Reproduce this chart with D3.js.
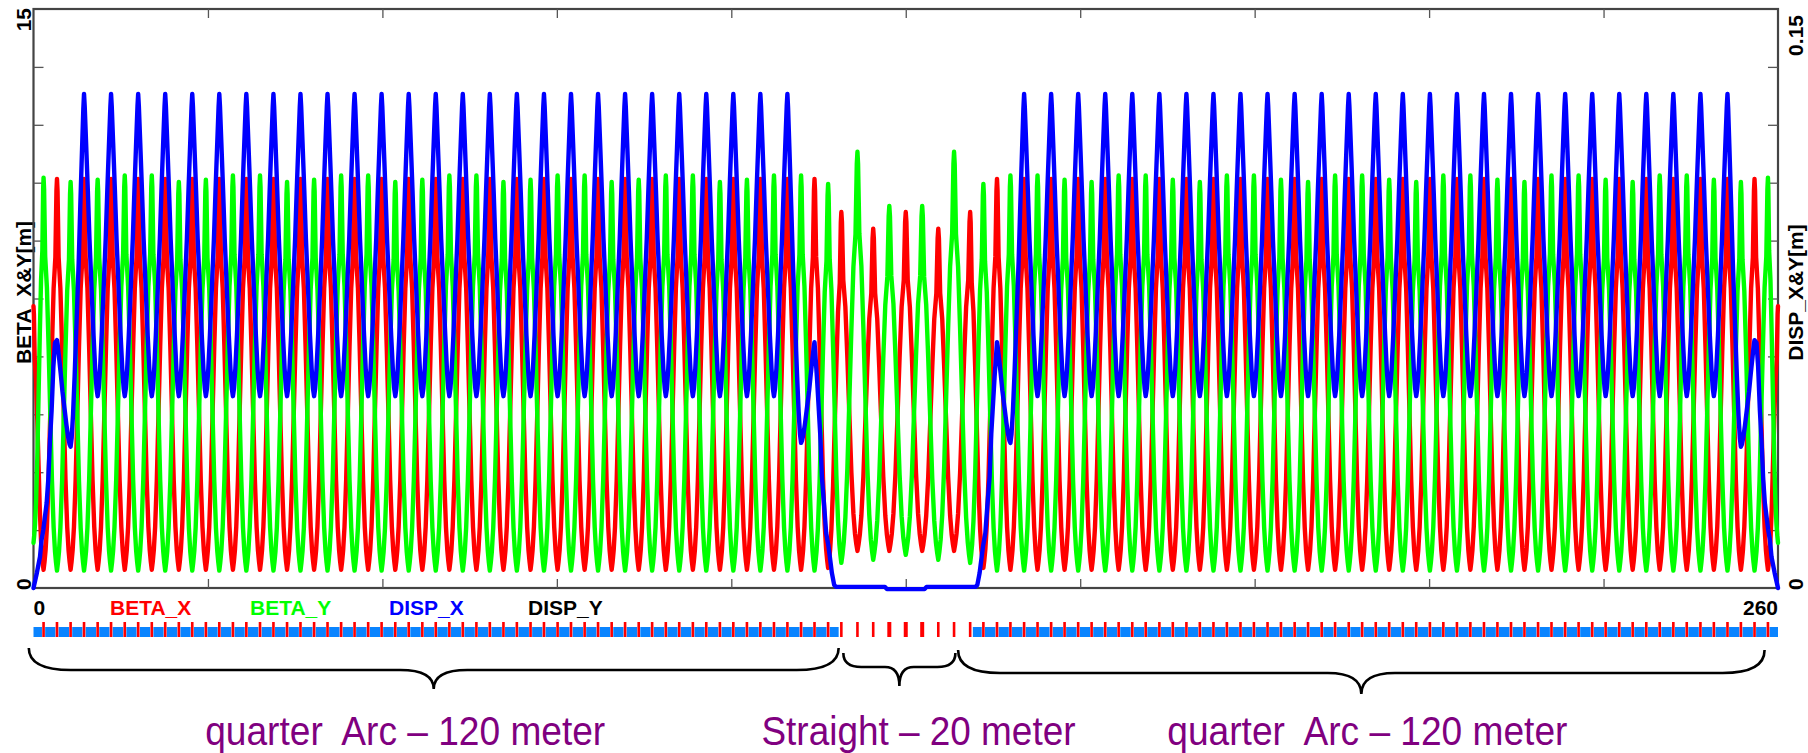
<!DOCTYPE html>
<html><head><meta charset="utf-8">
<script src="https://cdn.jsdelivr.net/npm/d3@7"></script>
<style>html,body{margin:0;padding:0;background:#fff;} svg{display:block;}</style>
</head><body>
<script>
// ================= DATA =================
// Positions (m) of the lattice turning points = quadrupole centres, plus both ends.
const turnS = [0,
  1.50, 3.50, 5.53, 7.53, 9.56, 11.56, 13.60, 15.60, 17.63, 19.63,
  21.66, 23.66, 25.69, 27.69, 29.72, 31.72, 33.76, 35.76, 37.79, 39.79,
  41.82, 43.82, 45.85, 47.85, 49.88, 51.88, 53.92, 55.92, 57.95, 59.95,
  61.98, 63.98, 66.01, 68.01, 70.04, 72.04, 74.08, 76.08, 78.11, 80.11,
  82.14, 84.14, 86.17, 88.17, 90.20, 92.20, 94.24, 96.24, 98.27, 100.27,
  102.30, 104.30, 106.33, 108.33, 110.36, 112.36, 114.40, 116.40, 118.43,
  120.40, 122.80, 125.15, 127.55, 130.00, 132.45, 134.85, 137.20, 139.60,
  141.57, 143.60, 145.60, 147.64, 149.64, 151.67, 153.67, 155.70, 157.70, 159.73,
  161.73, 163.76, 165.76, 167.80, 169.80, 171.83, 173.83, 175.86, 177.86, 179.89,
  181.89, 183.92, 185.92, 187.96, 189.96, 191.99, 193.99, 196.02, 198.02, 200.05,
  202.05, 204.08, 206.08, 208.12, 210.12, 212.15, 214.15, 216.18, 218.18, 220.21,
  222.21, 224.24, 226.24, 228.28, 230.28, 232.31, 234.31, 236.34, 238.34, 240.37,
  242.37, 244.40, 246.40, 248.44, 250.44, 252.47, 254.47, 256.50, 258.50,
  260];

// BETA_X (m) at each turning point
const betaX = [7.3,
  0.47,10.6,0.47,10.6,0.47,10.6,0.47,10.6,0.47,10.6,
  0.47,10.6,0.47,10.6,0.47,10.6,0.47,10.6,0.47,10.6,
  0.47,10.6,0.47,10.6,0.47,10.6,0.47,10.6,0.47,10.6,
  0.47,10.6,0.47,10.6,0.47,10.6,0.47,10.6,0.47,10.6,
  0.47,10.6,0.47,10.6,0.47,10.6,0.47,10.6,0.47,10.6,
  0.47,10.6,0.47,10.6,0.47,10.6,0.47,10.6,0.52,
  9.74,0.96,9.31,0.96,9.74,0.96,9.31,0.96,9.74,
  0.52,10.6,0.47,10.6,0.47,10.6,0.47,10.6,0.47,10.6,
  0.47,10.6,0.47,10.6,0.47,10.6,0.47,10.6,0.47,10.6,
  0.47,10.6,0.47,10.6,0.47,10.6,0.47,10.6,0.47,10.6,
  0.47,10.6,0.47,10.6,0.47,10.6,0.47,10.6,0.47,10.6,
  0.47,10.6,0.47,10.6,0.47,10.6,0.47,10.6,0.47,10.6,
  0.47,10.6,0.47,10.6,0.47,10.6,0.47,10.6,0.47,
  7.3];

// BETA_Y (m) at each turning point
const betaY = [1.17,
  10.63,0.45,10.52,0.45,10.58,0.45,10.69,0.45,10.69,0.45,
  10.52,0.45,10.58,0.45,10.69,0.45,10.69,0.45,10.52,0.45,
  10.58,0.45,10.69,0.45,10.69,0.45,10.52,0.45,10.58,0.45,
  10.69,0.45,10.69,0.45,10.52,0.45,10.58,0.45,10.69,0.45,
  10.69,0.45,10.52,0.45,10.58,0.45,10.69,0.45,10.69,0.45,
  10.52,0.45,10.58,0.45,10.69,0.45,10.69,0.45,10.47,
  0.65,11.3,0.73,9.9,0.86,9.9,0.73,11.3,0.65,
  10.47,0.45,10.69,0.45,10.69,0.45,10.58,0.45,10.52,0.45,
  10.69,0.45,10.69,0.45,10.58,0.45,10.52,0.45,10.69,0.45,
  10.69,0.45,10.58,0.45,10.52,0.45,10.69,0.45,10.69,0.45,
  10.58,0.45,10.52,0.45,10.69,0.45,10.69,0.45,10.58,0.45,
  10.52,0.45,10.69,0.45,10.69,0.45,10.58,0.45,10.52,0.45,
  10.69,0.45,10.69,0.45,10.58,0.45,10.52,0.45,10.63,
  1.17];

// DISP_X (m) at each turning point of the arcs (null = not a turning point)
const dispX = [null,
  null,0.0642,0.0366,0.128,0.0497,0.128,0.0497,0.128,0.0497,0.128,
  0.0497,0.128,0.0497,0.128,0.0497,0.128,0.0497,0.128,0.0497,0.128,
  0.0497,0.128,0.0497,0.128,0.0497,0.128,0.0497,0.128,0.0497,0.128,
  0.0497,0.128,0.0497,0.128,0.0497,0.128,0.0497,0.128,0.0497,0.128,
  0.0497,0.128,0.0497,0.128,0.0497,0.128,0.0497,0.128,0.0497,0.128,
  0.0497,0.128,0.0497,0.128,0.0497,0.128,0.0376,0.0637,null,
  null,null,null,null,null,null,null,null,null,
  null,0.0637,0.0376,0.128,0.0497,0.128,0.0497,0.128,0.0497,0.128,
  0.0497,0.128,0.0497,0.128,0.0497,0.128,0.0497,0.128,0.0497,0.128,
  0.0497,0.128,0.0497,0.128,0.0497,0.128,0.0497,0.128,0.0497,0.128,
  0.0497,0.128,0.0497,0.128,0.0497,0.128,0.0497,0.128,0.0497,0.128,
  0.0497,0.128,0.0497,0.128,0.0497,0.128,0.0497,0.128,0.0497,0.128,
  0.0497,0.128,0.0497,0.128,0.0497,0.128,0.0366,0.0642,null,
  null];

// DISP_X samples where it is not periodic: start, straight section, end
const dispStartS = [0, 0.5, 0.97, 1.2, 1.46, 1.96, 2.2, 2.46, 2.7, 2.96, 3.2];
const dispStartV = [0, 0.0039, 0.0081, 0.0124, 0.015, 0.022, 0.028, 0.0383, 0.046, 0.0573, 0.0635];
const dispMidS = [116.76, 117.25, 117.5, 117.85, 118.14, 118.49, 118.74, 118.99, 119.33, 119.6,
                  126.9, 127.2, 132.8, 133.1,
                  140.4, 140.67, 141.01, 141.26, 141.51, 141.86, 142.15, 142.5, 142.75, 143.24];
const dispMidV = [0.0547, 0.040, 0.0288, 0.021, 0.0142, 0.0107, 0.0073, 0.0039, 0.0008, 0.0003,
                  0.0003, -0.0003, -0.0003, 0.0003,
                  0.0003, 0.0008, 0.0039, 0.0073, 0.0107, 0.0142, 0.021, 0.0288, 0.040, 0.0547];
const dispEndS = [256.8, 257.04, 257.3, 257.54, 257.8, 258.04, 258.54, 258.8, 259.03, 259.5, 260];
const dispEndV = [0.0635, 0.0573, 0.046, 0.0383, 0.028, 0.022, 0.015, 0.0124, 0.0081, 0.0039, 0];

// Shape of a descent from a maximum (t=0) to the next minimum (t=1), normalised
const betaShapeT = [0, 0.04, 0.12, 0.25, 0.375, 0.5, 0.625, 0.75, 0.85, 0.93, 1];
const betaShapeF = [1, 0.97, 0.80, 0.72, 0.57, 0.40, 0.23, 0.11, 0.05, 0.02, 0];
const dispShapeT = [0, 0.05, 0.15, 0.28, 0.4, 0.55, 0.7, 0.82, 0.92, 1];
const dispShapeF = [1, 0.96, 0.84, 0.68, 0.52, 0.36, 0.2, 0.09, 0.025, 0];

// Axes
const xTicks = [0, 26, 52, 78, 104, 130, 156, 182, 208, 234, 260];
const xTickLabels = ["0", "260"];
const yTicks = [0, 1.5, 3, 4.5, 6, 7.5, 9, 10.5, 12, 13.5, 15];
const yTickLabels = ["0", "15"];
const y2TickLabels = ["0", "0.15"];
const yTitle = "BETA_X&Y[m]";
const y2Title = "DISP_X&Y[m]";

// Legend
const seriesNames = ["BETA_X", "BETA_Y", "DISP_X", "DISP_Y"];
const seriesColors = ["#ff0000", "#00ff00", "#0000ff", "#000000"];

// Lattice sections
const sectionFrom = [-0.7, 120.7, 137.8];
const sectionTo = [120.0, 137.4, 258.0];
const sectionLabels = ["quarter  Arc \u2013 120 meter", "Straight \u2013 20 meter", "quarter  Arc \u2013 120 meter"];
const sectionLabelAt = [55.4, 131.9, 198.8];
const sectionLabelLen = [400, 314, 400];
const dipoleFrom = [0, 140];
const dipoleTo = [120, 260];
const wideQuads = [127.55, 130.00, 132.45];

// ================= DRAWING =================
const W = 1808, H = 753;
const svg = d3.select("body").append("svg").attr("width", W).attr("height", H)
  .style("font-family", "'Liberation Sans', Arial, Helvetica, sans-serif");

const x = d3.scaleLinear().domain([0, 260]).range([33.5, 1778]);
const yL = d3.scaleLinear().domain([0, 15]).range([588, 9]);
const yR = d3.scaleLinear().domain([0, 0.15]).range([588, 9]);

function buildCurve(S, V, T, F) {
  const pts = [];
  for (let i = 0; i < S.length - 1; i++) {
    const sa = S[i], sb = S[i + 1], va = V[i], vb = V[i + 1];
    const seg = [];
    if (va >= vb) {
      for (let k = 0; k < T.length; k++) seg.push([sa + T[k] * (sb - sa), vb + F[k] * (va - vb)]);
    } else {
      for (let k = T.length - 1; k >= 0; k--) seg.push([sb - T[k] * (sb - sa), va + F[k] * (vb - va)]);
    }
    if (pts.length) seg.shift();
    pts.push(...seg);
  }
  return pts;
}

const redPts = buildCurve(turnS, betaX, betaShapeT, betaShapeF);
const greenPts = buildCurve(turnS, betaY, betaShapeT, betaShapeF);

function runs() {
  const out = []; let cur = null;
  turnS.forEach((s, i) => {
    if (dispX[i] !== null) { if (!cur) { cur = { S: [], V: [] }; out.push(cur); } cur.S.push(s); cur.V.push(dispX[i]); }
    else cur = null;
  });
  return out;
}
const dr = runs();
let bluePts = dispStartS.map((s, i) => [s, dispStartV[i]]);
bluePts = bluePts.concat(buildCurve(dr[0].S, dr[0].V, dispShapeT, dispShapeF));
bluePts = bluePts.concat(dispMidS.map((s, i) => [s, dispMidV[i]]));
bluePts = bluePts.concat(buildCurve(dr[1].S, dr[1].V, dispShapeT, dispShapeF));
bluePts = bluePts.concat(dispEndS.map((s, i) => [s, dispEndV[i]]));

const lineL = d3.line().x(d => x(d[0])).y(d => yL(d[1]));
const lineR = d3.line().x(d => x(d[0])).y(d => yR(d[1]));

// axis titles (under the frame)
svg.append("text").attr("transform", `translate(31,${yL(7.5) - 6}) rotate(-90)`)
  .attr("text-anchor", "middle").attr("font-size", 21).attr("font-weight", "bold").text(yTitle);
svg.append("text").attr("transform", `translate(1803,${yL(7.5) - 6}) rotate(-90)`)
  .attr("text-anchor", "middle").attr("font-size", 21).attr("font-weight", "bold").text(y2Title);

const curves = svg.append("g").attr("fill", "none").attr("stroke-width", 4.4)
  .attr("stroke-linejoin", "round").attr("stroke-linecap", "round");
curves.append("path").attr("d", lineL(redPts)).attr("stroke", seriesColors[0]);
curves.append("path").attr("d", lineL(greenPts)).attr("stroke", seriesColors[1]);

// frame and ticks
const frame = svg.append("g");
frame.append("rect").attr("x", x(0)).attr("y", yL(15)).attr("width", x(260) - x(0)).attr("height", yL(0) - yL(15))
  .attr("fill", "none").attr("stroke", "#444").attr("stroke-width", 2.2);
const axT = d3.axisTop(x).tickValues(xTicks.slice(1, -1)).tickSize(-9).tickFormat("");
const axB = d3.axisBottom(x).tickValues(xTicks.slice(1, -1)).tickSize(-9).tickFormat("");
const axL = d3.axisLeft(yL).tickValues(yTicks.slice(1, -1)).tickSize(-10).tickFormat("");
const axR = d3.axisRight(yR).tickValues(yTicks.slice(1, -1).map(v => v / 100)).tickSize(-10).tickFormat("");
[[axT, `translate(0,${yL(15)})`], [axB, `translate(0,${yL(0)})`], [axL, `translate(${x(0)},0)`], [axR, `translate(${x(260)},0)`]]
  .forEach(([ax, tr]) => {
    const g = frame.append("g").attr("transform", tr).call(ax);
    g.select(".domain").remove();
    g.selectAll("line").attr("stroke", "#555").attr("stroke-width", 1.3);
  });

curves.raise();
curves.append("path").attr("d", lineR(bluePts)).attr("stroke", seriesColors[2]);

// tick labels (rotated like the original)
const lab = svg.append("g").attr("font-size", 21).attr("font-weight", "bold").attr("fill", "#000");
lab.append("text").attr("transform", `translate(31,${yL(15) - 1}) rotate(-90)`).attr("text-anchor", "end").text(yTickLabels[1]);
lab.append("text").attr("transform", `translate(31,${yL(0) + 2}) rotate(-90)`).attr("text-anchor", "start").text(yTickLabels[0]);
lab.append("text").attr("transform", `translate(1803,${yR(0.15) + 6}) rotate(-90)`).attr("text-anchor", "end").text(y2TickLabels[1]);
lab.append("text").attr("transform", `translate(1803,${yR(0) + 2}) rotate(-90)`).attr("text-anchor", "start").text(y2TickLabels[0]);
lab.append("text").attr("x", x(0)).attr("y", 615).attr("text-anchor", "start").text(xTickLabels[0]);
lab.append("text").attr("x", x(260)).attr("y", 615).attr("text-anchor", "end").text(xTickLabels[1]);

// legend row
const legendX = [110, 250, 389, 528];
seriesNames.forEach((n, i) => {
  lab.append("text").attr("x", legendX[i]).attr("y", 615).attr("fill", seriesColors[i]).text(n);
});

// magnet lattice bar
const lat = svg.append("g");
dipoleFrom.forEach((a, j) => {
  const b = dipoleTo[j];
  const bounds = [a].concat(turnS.filter(s => s > a && s < b)).concat([b]);
  for (let i = 0; i < bounds.length - 1; i++) {
    const x0 = x(bounds[i]) + (i === 0 ? 0 : 1.6), x1 = x(bounds[i + 1]) - (i === bounds.length - 2 ? 0 : 1.6);
    lat.append("rect").attr("x", x0).attr("y", 627).attr("width", Math.max(0, x1 - x0)).attr("height", 10).attr("fill", "#0a84ff");
  }
});
turnS.slice(1, -1).forEach(s => {
  const w = wideQuads.includes(s) ? 4 : 2.6;
  lat.append("rect").attr("x", x(s) - w / 2).attr("y", 622).attr("width", w).attr("height", 15).attr("fill", "#ff0000");
});

// braces
const braceGeom = [[648, 670, 689, 42], [653, 667, 686, 18], [650, 673, 694, 42]];
const br = svg.append("g").attr("fill", "none").attr("stroke", "#000").attr("stroke-width", 2.6);
sectionFrom.forEach((a, i) => {
  const x1 = x(a), x2 = x(sectionTo[i]), xm = (x1 + x2) / 2;
  const [y0, y1, y2, r] = braceGeom[i];
  const p = `M${x1},${y0} Q${x1},${y1} ${x1 + r},${y1} L${xm - r * 0.8},${y1} Q${xm},${y1} ${xm},${y2} ` +
            `Q${xm},${y1} ${xm + r * 0.8},${y1} L${x2 - r},${y1} Q${x2},${y1} ${x2},${y0}`;
  br.append("path").attr("d", p);
});

// section labels
sectionLabels.forEach((t, i) => {
  svg.append("text").attr("x", x(sectionLabelAt[i]) - sectionLabelLen[i] / 2).attr("y", 745)
    .attr("textLength", sectionLabelLen[i]).attr("lengthAdjust", "spacingAndGlyphs")
    .attr("font-size", 40).attr("fill", "#800080").attr("xml:space", "preserve").text(t);
});
</script>
</body></html>
